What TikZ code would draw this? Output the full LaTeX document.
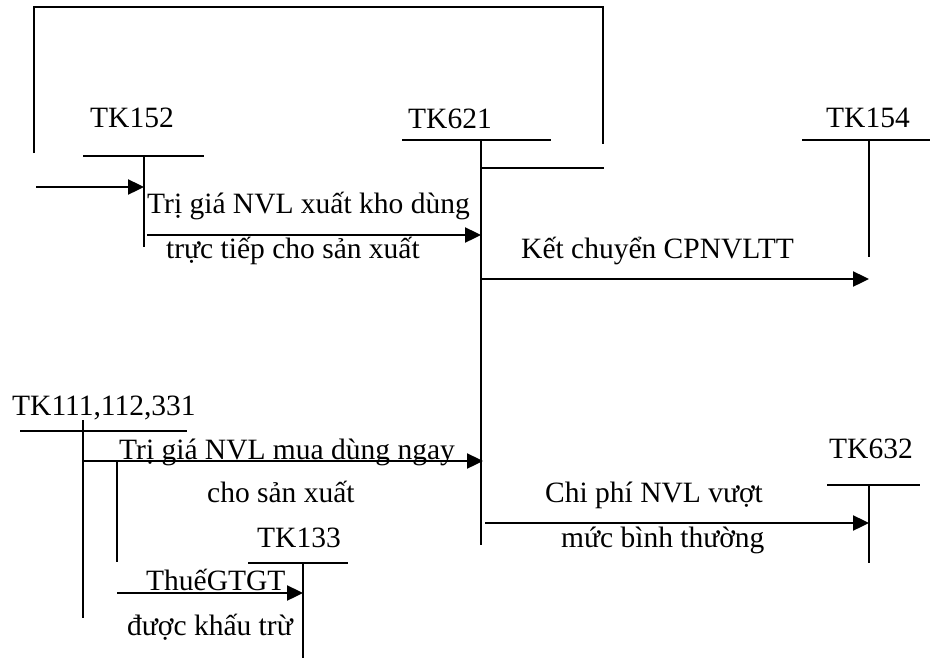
\documentclass[tikz,border=0pt]{standalone}
\usepackage{fontspec}
\setmainfont{Liberation Serif}
\usetikzlibrary{arrows.meta}
\begin{document}
\begin{tikzpicture}[x=1pt,y=-1pt,
  acct/.style={line width=1.6pt},
  flow/.style={line width=2.4pt,-{Triangle[length=16pt,width=15pt]}},
  lbl/.style={anchor=base west,inner sep=0pt,font=\fontsize{29.5}{35}\selectfont}]
\useasboundingbox (0,0) rectangle (930,659);

% account headings
\node[lbl] (n152) at (90,127) {TK152};
\node[lbl] (n621) at (408,128) {TK621};
\node[lbl] (n154) at (826,127) {TK154};
\node[lbl] (n111) at (12,415) {TK111,112,331};
\node[lbl] (n133) at (257,547) {TK133};
\node[lbl] (n632) at (829,458) {TK632};

% T-account anchor points (top of each vertical stroke)
\coordinate (a152) at (144,156);
\coordinate (a621) at (481,140);
\coordinate (a154) at (869,140);
\coordinate (a111) at (83,431);
\coordinate (a133) at (303,563);
\coordinate (a632) at (869,485);

% T-accounts
\draw[acct] (83,156) -- (204,156);
\draw[acct] (a152) -- (144,247);
\draw[acct] (402,140) -- (551,140);
\draw[acct] (a621) -- (481,545);
\draw[acct] (802,140) -- (930,140);
\draw[acct] (a154) -- (869,257);
\draw[acct] (20,431) -- (187,431);
\draw[acct] (83,420) -- (83,618);
\draw[acct] (248,563) -- (348,563);
\draw[acct] (a133) -- (303,658);
\draw[acct] (827,485) -- (920,485);
\draw[acct] (a632) -- (869,563);

% return loop over TK152 and TK621
\coordinate (loopL) at (34,153);
\coordinate (loopR) at (603,144);
\draw[acct] (loopL) -- (34,7) -- (603,7) -- (loopR);
\coordinate (sideS) at (481,168);
\coordinate (sideE) at (604,168);
\draw[acct] (sideS) -- (sideE);

% branch of TK111 towards TK133
\coordinate (b1) at (117,461);
\coordinate (b2) at (117,562);
\draw[acct] (b1) -- (b2);

% entries
\coordinate (in152) at (36,187);
\coordinate (t152) at (144,187);
\draw[flow] (in152) -- (t152);

\coordinate (s1) at (147,235);
\coordinate (e1) at (481,235);
\draw[flow] (s1) -- (e1);

\coordinate (s2) at (481,279);
\coordinate (e2) at (869,279);
\draw[flow] (s2) -- (e2);

\coordinate (s3) at (83,461);
\coordinate (e3) at (483,461);
\draw[flow] (s3) -- (e3);

\coordinate (s4) at (117,593);
\coordinate (e4) at (303,593);
\draw[flow] (s4) -- (e4);

\coordinate (s5) at (485,523);
\coordinate (e5) at (869,523);
\draw[flow] (s5) -- (e5);

% entry texts
\node[lbl] (x1a) at (147,213) {Trị giá NVL xuất kho dùng};
\node[lbl] (x1b) at (166,258) {trực tiếp cho sản xuất};
\node[lbl] (x2)  at (521,258) {Kết chuyển CPNVLTT};
\node[lbl] (x3a) at (119,459) {Trị giá NVL mua dùng ngay};
\node[lbl] (x3b) at (207,502) {cho sản xuất};
\node[lbl] (x4a) at (146,590) {ThuếGTGT};
\node[lbl] (x4b) at (127,635) {được khấu trừ};
\node[lbl] (x5a) at (545,502) {Chi phí NVL vượt};
\node[lbl] (x5b) at (561,547) {mức bình thường};
\end{tikzpicture}
\end{document}
